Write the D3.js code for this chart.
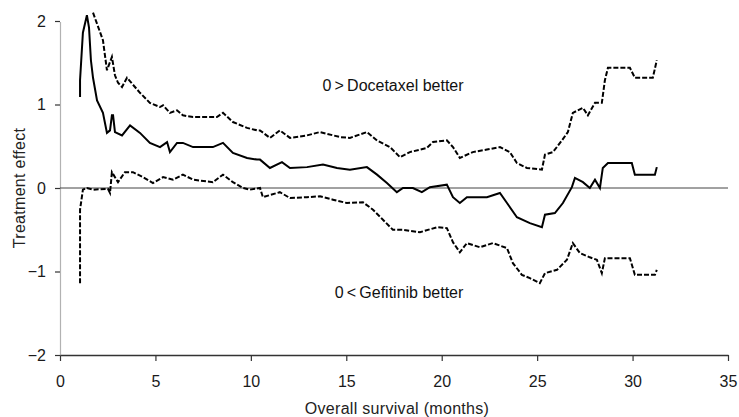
<!DOCTYPE html>
<html lang="en">
<head>
    <meta charset="UTF-8">
    <title>Treatment effect over overall survival</title>
    <script src="https://d3js.org/d3.v7.min.js"></script>
    <style>
        body {
            margin: 0;
            background: #fff;
        }
        svg {
            display: block;
            font-family: "Liberation Sans", Arial, sans-serif;
        }
        .tick text {
            fill: #1a1a1a;
        }
        .ci {
            fill: none;
            stroke: #000;
            stroke-width: 2px;
            stroke-dasharray: 5, 2;
        }
        .est {
            fill: none;
            stroke: #000;
            stroke-width: 2px;
        }
    </style>
</head>
<body>

<script>
    // months and values
    const estT = [1.05, 1.05, 1.20, 1.41, 1.52, 1.62, 1.73, 1.94, 2.25, 2.46, 2.62, 2.72, 2.78, 2.88, 3.25, 3.67, 4.19, 4.71,
        5.24, 5.61, 5.76, 6.13, 6.44, 6.97, 8.01, 8.54, 9.06, 9.80, 10.32, 10.48, 11.00, 11.63, 12.05, 12.94, 13.78, 14.51,
        15.19, 16.08, 16.61, 17.13, 17.65, 17.97, 18.49, 18.96, 19.38, 20.27, 20.59, 20.95, 21.32, 22.37, 23.05, 23.42,
        23.94, 24.62, 25.25, 25.41, 25.93, 26.35, 26.82, 26.98, 27.40, 27.76, 28.03, 28.29, 28.44, 28.71, 29.96, 30.12,
        31.17, 31.27];
    const estV = [1.09, 1.29, 1.86, 2.07, 1.92, 1.53, 1.32, 1.05, 0.90, 0.66, 0.69, 0.87, 0.87, 0.67, 0.63, 0.75, 0.66, 0.54,
        0.49, 0.55, 0.43, 0.54, 0.54, 0.49, 0.49, 0.54, 0.42, 0.36, 0.34, 0.34, 0.24, 0.31, 0.24, 0.25, 0.28, 0.24,
        0.22, 0.25, 0.16, 0.06, -0.05, 0.00, 0.00, -0.05, 0.01, 0.04, -0.11, -0.18, -0.11, -0.11, -0.06, -0.18,
        -0.35, -0.42, -0.47, -0.32, -0.30, -0.18, 0.01, 0.12, 0.07, 0.00, 0.10, 0.00, 0.24, 0.30, 0.30, 0.16,
        0.16, 0.25];

    const upT = [1.73, 2.25, 2.46, 2.72, 2.88, 3.04, 3.25, 3.51, 4.19, 4.71, 5.24, 5.40, 5.76, 6.13, 6.44, 6.97, 8.22, 8.54,
        9.06, 9.80, 10.32, 10.48, 11.00, 11.52, 12.05, 12.94, 13.62, 14.67, 15.19, 16.08, 16.61, 17.29, 17.81, 18.33,
        19.22, 19.54, 20.27, 20.59, 20.95, 21.63, 22.37, 23.05, 23.57, 23.94, 24.46, 25.25, 25.41, 25.83, 26.30, 26.61,
        26.87, 27.40, 27.66, 28.03, 28.39, 28.55, 28.71, 29.86, 30.12, 31.06, 31.27];
    const upV = [2.10, 1.77, 1.41, 1.57, 1.35, 1.26, 1.21, 1.32, 1.14, 1.02, 0.97, 0.99, 0.90, 0.93, 0.87, 0.85, 0.85, 0.90,
        0.79, 0.72, 0.69, 0.69, 0.60, 0.69, 0.60, 0.63, 0.67, 0.61, 0.60, 0.67, 0.57, 0.49, 0.37, 0.43,
        0.48, 0.55, 0.57, 0.49, 0.36, 0.43, 0.46, 0.49, 0.43, 0.30, 0.24, 0.22, 0.40, 0.43, 0.57, 0.67,
        0.90, 0.96, 0.87, 1.02, 1.02, 1.29, 1.44, 1.44, 1.32, 1.32, 1.53];

    const loT = [1.05, 1.05, 1.20, 1.41, 1.73, 2.51, 2.62, 2.72, 3.04, 3.40, 3.82, 4.35, 4.87, 5.40, 5.92, 6.44, 6.97, 8.01,
        8.54, 9.06, 9.59, 9.95, 10.48, 10.63, 11.52, 12.05, 12.94, 13.62, 14.30, 15.03, 15.87, 16.40, 16.92, 17.44,
        17.97, 18.86, 19.75, 20.27, 20.59, 20.95, 21.32, 22.00, 22.68, 23.42, 23.73, 24.20, 24.62, 25.14, 25.41, 26.04,
        26.56, 26.87, 27.24, 27.76, 28.13, 28.39, 28.55, 29.86, 30.12, 31.17, 31.27];
    const loV = [-1.14, -0.26, -0.02, 0.00, -0.02, -0.01, -0.06, 0.19, 0.07, 0.19, 0.19, 0.13, 0.06, 0.13, 0.10, 0.16, 0.10, 0.07,
        0.16, 0.07, 0.00, -0.02, 0.00, -0.11, -0.05, -0.12, -0.11, -0.10, -0.14, -0.18, -0.17, -0.26, -0.38, -0.50,
        -0.50, -0.53, -0.47, -0.48, -0.65, -0.77, -0.66, -0.71, -0.66, -0.72, -0.90, -1.04, -1.08, -1.14, -1.02, -0.98,
        -0.86, -0.66, -0.78, -0.83, -0.86, -1.02, -0.84, -0.84, -1.04, -1.04, -0.98];

    const xTicks = [0, 5, 10, 15, 20, 25, 30, 35];
    const yTicks = [-2, -1, 0, 1, 2];

    const width = 739;
    const height = 417;
    const margin = { top: 21, right: 11, bottom: 62, left: 60 };

    const svg = d3.select("body")
        .append("svg")
        .attr("width", width)
        .attr("height", height);

    const x = d3.scaleLinear().domain([0, 35]).range([margin.left, width - margin.right]);
    const y = d3.scaleLinear().domain([-2, 2]).range([height - margin.bottom, margin.top]);

    // axes
    const gx = svg.append("g")
        .attr("transform", `translate(0,${height - margin.bottom})`)
        .call(d3.axisBottom(x).tickValues(xTicks).tickSize(6).tickSizeOuter(0).tickPadding(15));
    gx.select(".domain").attr("stroke", "#333").attr("stroke-width", 1.3);
    gx.selectAll(".tick line").attr("stroke", "#333").attr("stroke-width", 1.2);
    gx.selectAll(".tick text").attr("font-size", 16);

    const gy = svg.append("g")
        .attr("transform", `translate(${margin.left},0)`)
        .call(d3.axisLeft(y).tickValues(yTicks).tickSize(5).tickSizeOuter(0).tickPadding(9)
            .tickFormat(d => d < 0 ? "\u2212" + Math.abs(d) : d));
    gy.select(".domain").attr("stroke", "#666").attr("stroke-width", 1.2).attr("stroke-dasharray", "1,1");
    gy.selectAll(".tick line").attr("stroke", "#333").attr("stroke-width", 1.2);
    gy.selectAll(".tick text").attr("font-size", 16);

    // zero reference line
    svg.append("line")
        .attr("x1", x(0)).attr("x2", x(35))
        .attr("y1", y(0)).attr("y2", y(0))
        .attr("stroke", "#444")
        .attr("stroke-width", 1);

    const line = d3.line()
        .x(d => x(d[0]))
        .y(d => y(d[1]));

    const zipped = (ts, vs) => ts.map((t, i) => [t, vs[i]]);

    svg.append("path").attr("class", "ci").attr("d", line(zipped(upT, upV)));
    svg.append("path").attr("class", "est").attr("d", line(zipped(estT, estV)));
    svg.append("path").attr("class", "ci").attr("d", line(zipped(loT, loV)));

    // annotations
    svg.append("text")
        .attr("x", 393).attr("y", 91)
        .attr("text-anchor", "middle")
        .attr("font-size", 16)
        .attr("fill", "#111")
        .text("0\u2009>\u2009Docetaxel better");

    svg.append("text")
        .attr("x", 399).attr("y", 298)
        .attr("text-anchor", "middle")
        .attr("font-size", 16)
        .attr("fill", "#111")
        .text("0\u2009<\u2009Gefitinib better");

    // axis titles
    svg.append("text")
        .attr("x", 397).attr("y", 414)
        .attr("text-anchor", "middle")
        .attr("font-size", 16)
        .attr("letter-spacing", 0.3)
        .attr("fill", "#222")
        .text("Overall survival (months)");

    svg.append("text")
        .attr("transform", `translate(25,${y(0)}) rotate(-90)`)
        .attr("text-anchor", "middle")
        .attr("font-size", 16)
        .attr("letter-spacing", 0.3)
        .attr("fill", "#222")
        .text("Treatment effect");
</script>

</body>
</html>
